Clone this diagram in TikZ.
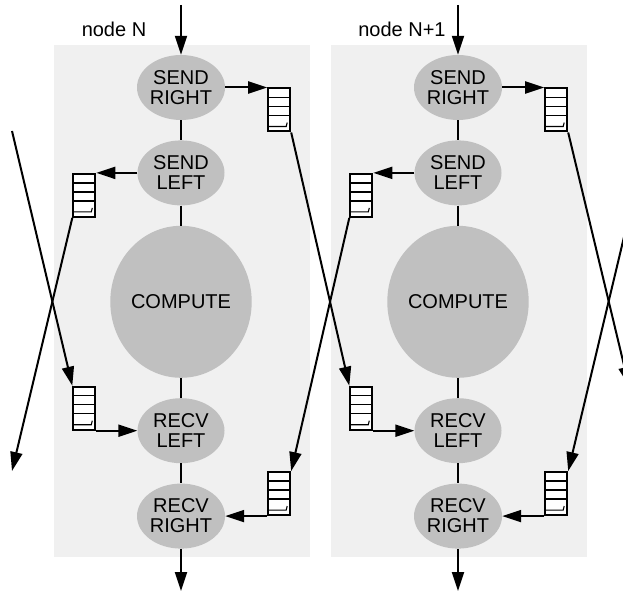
\documentclass[tikz,border=0pt]{standalone}
\usepackage{fontspec}
\setmainfont{Liberation Sans}
\usetikzlibrary{arrows.meta}
\usetikzlibrary{shapes.geometric}
\usetikzlibrary{positioning}
\usetikzlibrary{calc}
\definecolor{PanelGray}{HTML}{F0F0F0}
\definecolor{TaskGray}{HTML}{C0C0C0}
\tikzset{
  task/.style={ellipse, fill=TaskGray, minimum width=87pt, minimum height=65pt,
    inner sep=0pt, align=center, font=\fontsize{20}{20}\selectfont},
  fifo/.style={draw, line width=2pt, fill=white, minimum width=22pt,
    minimum height=43pt, inner sep=0pt, path picture={
      \coordinate (nw) at (path picture bounding box.north west);
      \coordinate (ne) at (path picture bounding box.north east);
      \foreach \h in {9,18,27}{%
        \draw[line width=1.4pt] ($(nw)+(0,\h)$) -- ($(ne)+(0,\h)$);
      }
      \draw[line width=1.1pt] ($(nw)+(0,38)$) -- ($(ne)+(-4,38)$) -- ($(ne)+(-3,34)$);
    }},
  link/.style={line width=2pt, -{Triangle[length=19pt,width=12pt]}},
  wire/.style={line width=2pt},
  tag/.style={anchor=base, font=\fontsize{20}{20}\selectfont}
}
\begin{document}
\begin{tikzpicture}[x=1pt, y=-1pt]
  \useasboundingbox (0,0) rectangle (623,593);
  \clip (0,0) rectangle (623,593);

  \foreach \i/\x in {0/181,1/458}{%
    \fill[PanelGray] (\x-127,45) rectangle (\x+129,557);

    \node[task] (sr\i) at (\x,87.5) {SEND\\RIGHT};
    \node[task, below=20pt of sr\i] (sl\i) {SEND\\LEFT};
    \node[task, below=20pt of sl\i, minimum width=129pt, minimum height=152pt] (cp\i) {COMPUTE};
    \node[task, below=20pt of cp\i] (rl\i) {RECV\\LEFT};
    \node[task, below=20pt of rl\i] (rr\i) {RECV\\RIGHT};

    \node[fifo, anchor=north west] (qsr\i) at ($(sr\i.east)+(42,0)$) {};
    \node[fifo, anchor=north east] (qsl\i) at ($(sl\i.west)+(-41,0)$) {};
    \node[fifo, anchor=south east] (qrl\i) at ($(rl\i.west)+(-41,0)$) {};
    \node[fifo, anchor=south west] (qrr\i) at ($(rr\i.east)+(42,0)$) {};

    \coordinate (in\i) at (\x,5);
    \coordinate (out\i) at (\x,591);

    \draw[wire] (sr\i) -- (sl\i) -- (cp\i) -- (rl\i) -- (rr\i);
    \draw[link] (in\i) -- (sr\i);
    \draw[link] (rr\i) -- (out\i);
    \draw[link] (sr\i.east) -- (qsr\i.north west);
    \draw[link] (sl\i.west) -- (qsl\i.north east);
    \draw[link] (qrl\i.south east) -- (rl\i.west);
    \draw[link] (qrr\i.south west) -- (rr\i.east);
  }

  \node[tag] (nameN) at (114,37) {node N};
  \node[tag] (nameM) at (402,37) {node N+1};

  % links between neighbours
  \coordinate (prevsr) at (12,131);
  \coordinate (prevrr) at (12,471);
  \coordinate (nextrl) at (629,386);
  \coordinate (nextsl) at (629,216);

  \draw[link] (prevsr) -- (qrl0.north west);
  \draw[link] (qsl0.south west) -- (prevrr);
  \draw[link] (qsr0.south east) -- (qrl1.north west);
  \draw[link] (qsl1.south west) -- (qrr0.north east);
  \draw[link] (qsr1.south east) -- (nextrl);
  \draw[link] (nextsl) -- (qrr1.north east);
\end{tikzpicture}
\end{document}
